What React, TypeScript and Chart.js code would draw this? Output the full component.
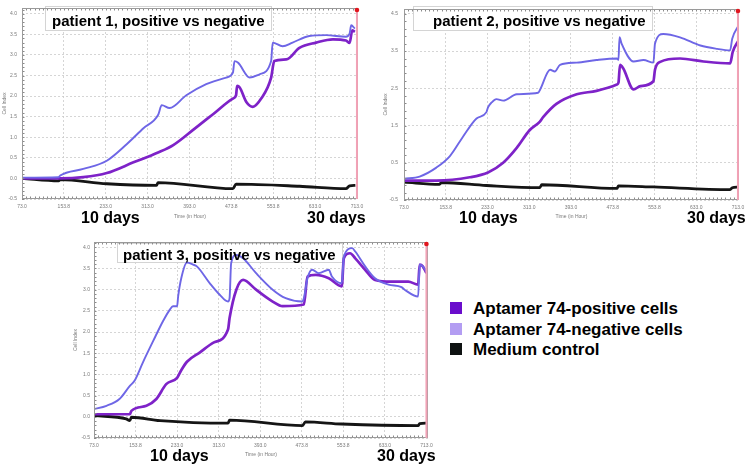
import React, { useEffect, useRef } from 'react';
import { Chart, registerables } from 'chart.js';

Chart.register(...registerables);

const FONT = '"Liberation Sans", Arial, Helvetica, sans-serif';
Chart.defaults.font.family = FONT;

type Pt = [number, number];

// ---------- axes / labels ----------
const X_TICKS = [73, 153, 233, 313, 393, 473, 553, 633, 713];
const X_TICK_LABELS = ['73.0', '153.8', '233.0', '313.0', '393.0', '473.8', '553.8', '633.0', '713.0'];
const Y_TICKS_A = [-0.5, 0, 0.5, 1, 1.5, 2, 2.5, 3, 3.5, 4];
const Y_TICKS_B = [-0.5, 0.5, 1.5, 2.5, 3.5, 4.5];
const MARKER_HOUR = 713;
const X_TITLE = 'Time (in Hour)';
const Y_TITLE = 'Cell Index';

const SERIES_NAMES = ['Aptamer 74-positive cells', 'Aptamer 74-negative cells', 'Medium control'];
const LEGEND_COLORS = ['#6a0dcc', '#b39df2', '#0e1212'];
const LINE_COLORS = ['#7e22c8', '#6e66e6', '#151515'];
const LINE_WIDTHS = [2.7, 1.9, 2.8];

const PANEL_TITLES = [
  'patient 1, positive vs negative',
  'patient 2, positive vs negative',
  'patient 3, positive vs negative',
];
const DAY_LABELS = ['10 days', '30 days'];

// ---------- patient 1 (hour, cell index) ----------
const P1_POS: Pt[] = [
  [73, 0.0], [146, 0.0], [190, 0.03], [235, 0.13], [286, 0.39], [333, 0.63], [362, 0.81],
  [400, 1.18], [438, 1.56], [476, 1.94], [482, 2.02], [484, 2.25], [489, 2.21], [502, 1.85],
  [514, 1.74], [530, 1.94], [549, 2.45], [555, 2.85], [578, 2.89], [603, 3.17], [635, 3.3],
  [667, 3.38], [692, 3.35], [699, 3.29], [704, 3.6], [709, 3.56],
];
const P1_NEG: Pt[] = [
  [73, 0.02], [143, 0.03], [146, 0.07], [190, 0.23], [235, 0.43], [273, 0.83], [305, 1.22],
  [333, 1.54], [340, 1.78], [355, 1.71], [387, 2.02], [425, 2.29], [463, 2.45], [476, 2.57],
  [479, 2.85], [486, 2.81], [508, 2.45], [527, 2.53], [549, 2.85], [552, 3.3], [571, 3.21],
  [590, 3.3], [622, 3.46], [654, 3.48], [692, 3.44], [699, 3.52], [702, 3.72], [709, 3.64],
];
const P1_MED: Pt[] = [
  [73, 0.0], [143, -0.06], [146, -0.03], [235, -0.13], [330, -0.17], [333, -0.1], [476, -0.25],
  [482, -0.14], [603, -0.19], [692, -0.25], [699, -0.18], [710, -0.17],
];

// ---------- patient 2 ----------
const P2_POS: Pt[] = [
  [73, 0.02], [135, 0.02], [199, 0.11], [234, 0.24], [263, 0.5], [289, 0.9], [314, 1.38],
  [333, 1.6], [340, 1.73], [365, 2.08], [404, 2.34], [442, 2.43], [481, 2.6], [484, 2.65],
  [487, 3.13], [493, 3.04], [513, 2.47], [526, 2.56], [551, 2.69], [554, 3.0], [564, 3.21],
  [602, 3.3], [647, 3.22], [698, 3.17], [703, 3.48], [714, 3.78],
];
const P2_NEG: Pt[] = [
  [73, 0.07], [103, 0.13], [135, 0.37], [161, 0.68], [186, 1.2], [212, 1.69], [231, 1.86],
  [234, 1.99], [241, 2.12], [250, 2.21], [263, 2.17], [289, 2.34], [330, 2.38], [334, 2.47],
  [353, 3.0], [362, 2.95], [372, 3.13], [404, 3.19], [442, 3.26], [481, 3.3], [484, 3.26],
  [486, 3.87], [490, 3.7], [513, 3.22], [532, 3.26], [551, 3.19], [554, 3.7], [570, 3.96],
  [602, 3.87], [641, 3.65], [673, 3.56], [698, 3.52], [702, 3.83], [714, 4.18],
];
const P2_MED: Pt[] = [
  [73, -0.02], [141, -0.08], [145, -0.03], [231, -0.11], [333, -0.17], [337, -0.09],
  [481, -0.19], [484, -0.12], [551, -0.15], [698, -0.22], [702, -0.17], [714, -0.15],
];

// ---------- patient 3 ----------
const P3_POS: Pt[] = [
  [73, 0.06], [142, 0.06], [145, 0.14], [174, 0.26], [193, 0.42], [212, 0.77], [233, 0.92],
  [241, 1.1], [252, 1.3], [277, 1.52], [303, 1.75], [331, 2.06], [334, 2.33], [347, 3.0],
  [360, 3.23], [385, 3.0], [417, 2.72], [436, 2.61], [477, 2.65], [484, 3.31], [500, 3.35],
  [525, 3.27], [550, 3.08], [554, 3.74], [566, 3.86], [576, 3.74], [595, 3.47], [614, 3.23],
  [646, 3.19], [678, 3.19], [697, 3.12], [700, 3.59], [706, 3.55], [713, 3.39],
];
const P3_NEG: Pt[] = [
  [73, 0.18], [97, 0.26], [122, 0.42], [142, 0.73], [151, 0.85], [167, 1.28], [187, 1.79],
  [206, 2.26], [219, 2.53], [225, 2.61], [233, 2.61], [235, 2.84], [241, 3.27], [252, 3.64],
  [264, 3.59], [271, 3.55], [296, 3.15], [315, 2.88], [331, 2.72], [334, 2.8], [337, 3.62],
  [347, 3.82], [360, 3.74], [385, 3.39], [417, 3.0], [442, 2.8], [474, 2.72], [477, 2.8],
  [484, 3.27], [493, 3.47], [506, 3.39], [525, 3.47], [531, 3.31], [550, 3.15], [554, 3.78],
  [570, 3.98], [576, 3.9], [595, 3.55], [614, 3.27], [640, 3.12], [665, 3.06], [671, 3.0],
  [697, 2.84], [700, 3.59], [706, 3.55], [713, 3.43],
];
const P3_MED: Pt[] = [
  [73, 0.03], [135, -0.05], [142, -0.09], [145, -0.01], [200, -0.09], [331, -0.15],
  [334, -0.08], [474, -0.21], [480, -0.12], [550, -0.17], [697, -0.21], [700, -0.16],
  [713, -0.15],
];

type Panel = {
  id: string;
  left: number; top: number; width: number; height: number;
  yWidth: number; xHeight: number;
  pad: { left: number; top: number; right: number; bottom: number };
  yMin: number; yMax: number; yTicks: number[]; yMinor: number;
  xMax: number;
  yTickPad: number; yTitlePad: number; xTitlePad: number;
  box: { x1: number; y1: number; x2: number; y2: number };
  series: Pt[][];
};

const PANELS: Panel[] = [
  {
    id: 'p1', left: 0, top: 0, width: 370, height: 230, yWidth: 22, xHeight: 31,
    pad: { left: 0, top: 4, right: 12, bottom: 0 },
    yMin: -0.5, yMax: 4.14, yTicks: Y_TICKS_A, yMinor: 0.1, xMax: 715,
    yTickPad: 5, yTitlePad: 2, xTitlePad: 10,
    box: { x1: 45, y1: 6, x2: 272, y2: 31 },
    series: [P1_POS, P1_NEG, P1_MED],
  },
  {
    id: 'p2', left: 375, top: 0, width: 375, height: 230, yWidth: 29, xHeight: 30,
    pad: { left: 0, top: 4, right: 11, bottom: 0 },
    yMin: -0.5, yMax: 4.63, yTicks: Y_TICKS_B, yMinor: 0.2, xMax: 715,
    yTickPad: 6, yTitlePad: 8, xTitlePad: 10,
    box: { x1: 413, y1: 6, x2: 653, y2: 31 },
    series: [P2_POS, P2_NEG, P2_MED],
  },
  {
    id: 'p3', left: 60, top: 232, width: 380, height: 237, yWidth: 34, xHeight: 31,
    pad: { left: 0, top: 10, right: 12, bottom: 0 },
    yMin: -0.5, yMax: 4.125, yTicks: Y_TICKS_A, yMinor: 0.1, xMax: 716,
    yTickPad: 4, yTitlePad: 13, xTitlePad: 11,
    box: { x1: 117, y1: 243, x2: 343, y2: 263 },
    series: [P3_POS, P3_NEG, P3_MED],
  },
];

function decorPlugin(p: Panel) {
  return {
    id: 'decor_' + p.id,
    beforeDatasetsDraw(chart: any) {
      const ctx = chart.ctx as CanvasRenderingContext2D;
      ctx.save();
      const x1 = p.box.x1 - p.left;
      const y1 = p.box.y1 - p.top;
      const w = p.box.x2 - p.box.x1;
      const h = p.box.y2 - p.box.y1;
      ctx.fillStyle = '#ffffff';
      ctx.fillRect(x1, y1, w, h);
      ctx.strokeStyle = '#d4d4d4';
      ctx.lineWidth = 1;
      ctx.strokeRect(x1 + 0.5, y1 + 0.5, w - 1, h - 1);
      ctx.restore();
    },
    afterDatasetsDraw(chart: any) {
      const ctx = chart.ctx as CanvasRenderingContext2D;
      const a = chart.chartArea;
      const xs = chart.scales.x;
      const ys = chart.scales.y;
      ctx.save();
      ctx.strokeStyle = '#8a8a8a';
      ctx.lineWidth = 1;
      ctx.beginPath();
      for (let hr = X_TICKS[0]; hr <= p.xMax; hr += 8) {
        const px = Math.round(xs.getPixelForValue(hr)) + 0.5;
        ctx.moveTo(px, a.top);
        ctx.lineTo(px, a.top + 2.5);
        ctx.moveTo(px, a.bottom);
        ctx.lineTo(px, a.bottom - 2.5);
      }
      for (let v = p.yMin; v <= p.yMax + 1e-9; v += p.yMinor) {
        const py = Math.round(ys.getPixelForValue(v)) + 0.5;
        ctx.moveTo(a.left, py);
        ctx.lineTo(a.left + 2.5, py);
      }
      ctx.stroke();
      ctx.strokeStyle = '#9a9a9a';
      ctx.strokeRect(a.left + 0.5, a.top + 0.5, a.right - a.left - 1, a.bottom - a.top - 1);
      const mx = xs.getPixelForValue(MARKER_HOUR);
      ctx.strokeStyle = '#f2a2b6';
      ctx.lineWidth = 2;
      ctx.beginPath();
      ctx.moveTo(mx, a.top);
      ctx.lineTo(mx, a.bottom);
      ctx.stroke();
      ctx.fillStyle = '#e0161e';
      ctx.beginPath();
      ctx.arc(mx, a.top + 2, 2.3, 0, Math.PI * 2);
      ctx.fill();
      ctx.restore();
    },
  };
}

function buildChart(canvas: HTMLCanvasElement, p: Panel) {
  const datasets = p.series.map((s, i) => ({
    label: SERIES_NAMES[i],
    data: s.map(([x, y]) => ({ x, y })),
    borderColor: LINE_COLORS[i],
    backgroundColor: LINE_COLORS[i],
    borderWidth: LINE_WIDTHS[i],
    pointRadius: 0,
    fill: false,
    cubicInterpolationMode: 'monotone' as const,
    order: i === 1 ? 1 : i === 0 ? 2 : 3,
  }));
  return new Chart(canvas, {
    type: 'line',
    data: { datasets },
    options: {
      animation: false,
      responsive: false,
      maintainAspectRatio: false,
      layout: { padding: p.pad },
      plugins: { legend: { display: false }, tooltip: { enabled: false } },
      scales: {
        x: {
          type: 'linear',
          min: X_TICKS[0],
          max: p.xMax,
          afterBuildTicks: (s: any) => {
            s.ticks = X_TICKS.map((v) => ({ value: v }));
          },
          afterFit: (s: any) => {
            s.height = p.xHeight;
          },
          ticks: {
            autoSkip: false,
            maxRotation: 0,
            padding: 5,
            color: '#7a7a7a',
            font: { size: 5 },
            callback: (v: any) => {
              const idx = X_TICKS.indexOf(Number(v));
              return idx >= 0 ? X_TICK_LABELS[idx] : '';
            },
          },
          grid: { color: '#cbcbcb', lineWidth: 0.8, drawTicks: false },
          border: { display: false, dash: [2, 2] },
          title: {
            display: true,
            text: X_TITLE,
            color: '#7a7a7a',
            font: { size: 5 },
            padding: { top: 0, bottom: p.xTitlePad },
          },
        },
        y: {
          type: 'linear',
          min: p.yMin,
          max: p.yMax,
          afterBuildTicks: (s: any) => {
            s.ticks = p.yTicks.map((v) => ({ value: v }));
          },
          afterFit: (s: any) => {
            s.width = p.yWidth;
          },
          ticks: {
            padding: p.yTickPad,
            color: '#7a7a7a',
            font: { size: 5 },
            callback: (v: any) => Number(v).toFixed(1),
          },
          grid: { color: '#cbcbcb', lineWidth: 0.8, drawTicks: false },
          border: { display: false, dash: [2, 2] },
          title: {
            display: true,
            text: Y_TITLE,
            color: '#7a7a7a',
            font: { size: 5 },
            padding: { top: p.yTitlePad, bottom: 0 },
          },
        },
      },
    },
    plugins: [decorPlugin(p)],
  } as any);
}

function PanelChart({ p }: { p: Panel }) {
  const ref = useRef<HTMLCanvasElement | null>(null);
  useEffect(() => {
    if (!ref.current) return;
    const c = buildChart(ref.current, p);
    return () => c.destroy();
  }, [p]);
  return (
    <canvas
      ref={ref}
      width={p.width}
      height={p.height}
      style={{ position: 'absolute', left: p.left, top: p.top, width: p.width, height: p.height }}
    />
  );
}

const TITLE_POS = [
  { left: 52, top: 13 },
  { left: 433, top: 13 },
  { left: 123, top: 247 },
];
const DAY_POS = [
  [{ left: 81, top: 210 }, { left: 307, top: 210 }],
  [{ left: 459, top: 210 }, { left: 687, top: 210 }],
  [{ left: 150, top: 448 }, { left: 377, top: 448 }],
];

const boldText: React.CSSProperties = {
  position: 'absolute',
  fontFamily: FONT,
  fontWeight: 700,
  whiteSpace: 'nowrap',
  color: '#000',
};

export default function App() {
  return (
    <div
      style={{
        position: 'absolute',
        left: 0,
        top: 0,
        width: 750,
        height: 469,
        background: '#ffffff',
        overflow: 'hidden',
      }}
    >
      {PANELS.map((p) => (
        <PanelChart key={p.id} p={p} />
      ))}
      {PANEL_TITLES.map((t, i) => (
        <div key={t} style={{ ...boldText, left: TITLE_POS[i].left, top: TITLE_POS[i].top, fontSize: 15, lineHeight: '15px' }}>
          {t}
        </div>
      ))}
      {DAY_POS.map((row, i) =>
        row.map((pos, j) => (
          <div key={`d${i}${j}`} style={{ ...boldText, left: pos.left, top: pos.top, fontSize: 16, lineHeight: '16px' }}>
            {DAY_LABELS[j]}
          </div>
        ))
      )}
      {SERIES_NAMES.map((name, i) => (
        <React.Fragment key={name}>
          <div
            style={{
              position: 'absolute',
              left: 450,
              top: 302 + i * 20.5,
              width: 12,
              height: 12,
              background: LEGEND_COLORS[i],
            }}
          />
          <div style={{ ...boldText, left: 473, top: 299 + i * 20.5, fontSize: 17, lineHeight: '20px' }}>{name}</div>
        </React.Fragment>
      ))}
    </div>
  );
}
